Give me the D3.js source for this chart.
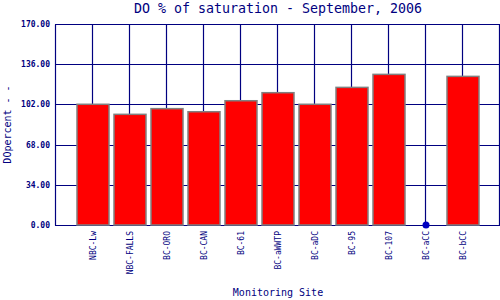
<!DOCTYPE html>
<html>
<head>
<meta charset="utf-8">
<script src="https://cdn.jsdelivr.net/npm/d3@7"></script>
<style>
  body { margin: 0; background: #fff; }
  text { font-family: "DejaVu Sans Mono", monospace; fill: #000080; }
</style>
</head>
<body>
<script>
// data
var sites = ["NBC-Lw", "NBC-FALLS", "BC-ORO", "BC-CAN", "BC-61", "BC-aWWTP", "BC-aDC", "BC-95", "BC-107", "BC-aCC", "BC-bCC"];
var values = [102.1, 93.6, 98.4, 95.8, 105.1, 111.9, 102.1, 116.4, 127.4, null, 125.7];
var yTicks = [0, 34, 68, 102, 136, 170];

var width = 500, height = 300;
var margin = {top: 24, right: 0, bottom: 75, left: 56};

var svg = d3.select("body").append("svg")
  .attr("width", width)
  .attr("height", height);

// 12 slots, sites sit on the slot boundaries 1..11
var x = d3.scaleLinear().domain([0, 12]).range([margin.left, width - margin.right]);
var y = d3.scaleLinear().domain([0, 170]).range([height - margin.bottom, margin.top]);
var barW = 32;

// grid
svg.append("g").selectAll("line.v")
  .data(d3.range(0, 13))
  .enter().append("line")
  .attr("x1", d => Math.round(x(d)) - 0.5).attr("x2", d => Math.round(x(d)) - 0.5)
  .attr("y1", Math.round(y(170)) + 0.5).attr("y2", Math.round(y(0)) + 0.5)
  .attr("stroke", "#000080").attr("stroke-width", 1.2);

svg.append("g").selectAll("line.h")
  .data(yTicks)
  .enter().append("line")
  .attr("x1", x(0) - 1).attr("x2", x(12))
  .attr("y1", d => Math.round(y(d)) + 0.5).attr("y2", d => Math.round(y(d)) + 0.5)
  .attr("stroke", "#000080").attr("stroke-width", 1.2);

// bars
var data = sites.map((s, i) => ({site: s, value: values[i], i: i}));

svg.append("g").selectAll("rect")
  .data(data.filter(d => d.value != null))
  .enter().append("rect")
  .attr("x", d => x(d.i + 1) - barW / 2)
  .attr("y", d => y(d.value))
  .attr("width", barW)
  .attr("height", d => y(0) - y(d.value))
  .attr("fill", "#ff0000")
  .attr("stroke", "#808080")
  .attr("stroke-width", 1.5);

// missing value marker
svg.append("g").selectAll("circle")
  .data(data.filter(d => d.value == null))
  .enter().append("circle")
  .attr("cx", d => x(d.i + 1))
  .attr("cy", y(0))
  .attr("r", 3.5)
  .attr("fill", "#0000c0");

// y tick labels
svg.append("g").selectAll("text")
  .data(yTicks)
  .enter().append("text")
  .attr("x", 50)
  .attr("y", d => y(d) + 3)
  .attr("text-anchor", "end")
  .style("font-size", "8px")
  .style("font-weight", "bold")
  .text(d => d.toFixed(2));

// x labels
svg.append("g").selectAll("text")
  .data(data)
  .enter().append("text")
  .attr("transform", d => "translate(" + (x(d.i + 1) + 3) + "," + 231 + ") rotate(-90)")
  .attr("text-anchor", "end")
  .style("font-size", "8px")
  .text(d => d.site);

// title and axis titles
svg.append("text")
  .attr("x", (x(0) + x(12)) / 2)
  .attr("y", 13)
  .attr("text-anchor", "middle")
  .style("font-size", "13.3px")
  .text("DO % of saturation - September, 2006");

svg.append("text")
  .attr("x", (x(0) + x(12)) / 2)
  .attr("y", 296)
  .attr("text-anchor", "middle")
  .style("font-size", "10px")
  .text("Monitoring Site");

svg.append("text")
  .attr("transform", "translate(11," + (y(85)) + ") rotate(-90)")
  .attr("text-anchor", "middle")
  .style("font-size", "10px")
  .text("DOpercent - -");
</script>
</body>
</html>
